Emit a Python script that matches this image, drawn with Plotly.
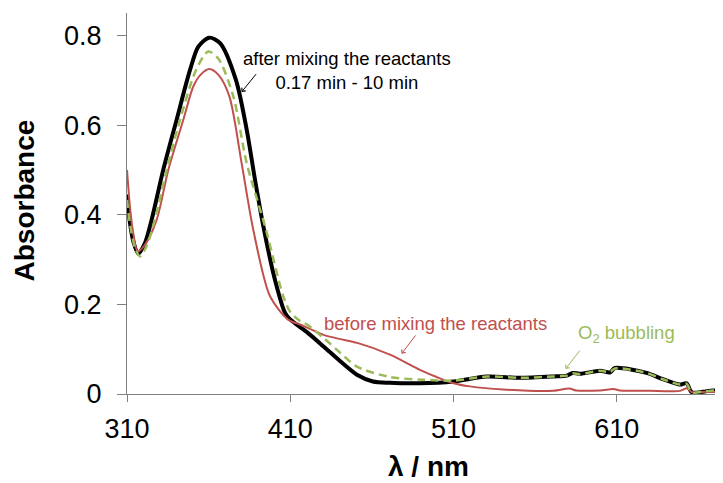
import plotly.graph_objects as go

# ---- data ----
black_wl = [310, 311.8, 313.9, 316.9, 321, 325.1, 332.2, 340.4, 348.6, 353.7, 360.4, 367, 376.7,
            383.3, 388.4, 393.9, 400.6, 406.8, 409.8, 415, 420.2, 430.4, 440.6, 450.8, 460.6,
            471, 489.4, 510, 530.3, 550.7, 571, 579.3, 583, 587.4, 599.7, 605.8, 608.8, 628.2,
            638.2, 648.6, 652.7, 655.8, 662.7, 668.9, 674.4]
black_abs = [0.445, 0.382, 0.340, 0.313, 0.337, 0.389, 0.500, 0.612, 0.723, 0.775, 0.795, 0.783,
             0.701, 0.590, 0.478, 0.367, 0.255, 0.181, 0.167, 0.152, 0.138, 0.106, 0.073, 0.043,
             0.028, 0.025, 0.024, 0.028, 0.039, 0.036, 0.039, 0.041, 0.047, 0.045, 0.052, 0.048,
             0.058, 0.047, 0.033, 0.021, 0.024, 0.004, 0.005, 0.008, 0.005]

red_wl = [310, 312, 314, 316.5, 321, 328.2, 335.3, 344.5, 350.6, 355, 360.4, 366, 372.7, 380.2,
          387.3, 397.6, 408.6, 416, 430.4, 440, 451, 471, 489.4, 499.6, 510, 520, 540.5, 571,
          581, 585, 599.7, 608, 612, 630, 648.6, 653, 656, 665, 674.4]
red_abs = [0.50, 0.41, 0.355, 0.318, 0.333, 0.389, 0.500, 0.612, 0.686, 0.712, 0.725, 0.712,
           0.664, 0.515, 0.367, 0.218, 0.166, 0.155, 0.132, 0.123, 0.114, 0.088, 0.054, 0.038,
           0.024, 0.017, 0.010, 0.007, 0.012, 0.008, 0.008, 0.011, 0.008, 0.007, 0.007, 0.013,
           0.004, 0.005, 0.004]

green_wl = [310, 312, 315, 318, 322, 327.1, 334.3, 342.5, 352.3, 359.8, 366, 375.1, 383.3, 395.1,
            405.7, 410, 416, 420.2, 430.4, 440.6, 450.8, 471, 491, 510, 530.3, 550.7, 571, 579.3,
            583, 587.4, 599.7, 605.8, 608.8, 628.2, 638.2, 648.6, 652.7, 655.8, 662.7, 668.9, 674.4]
green_abs = [0.433, 0.375, 0.325, 0.307, 0.330, 0.389, 0.500, 0.612, 0.723, 0.764, 0.748, 0.664,
             0.515, 0.367, 0.218, 0.183, 0.163, 0.155, 0.125, 0.092, 0.061, 0.038, 0.032, 0.030,
             0.039, 0.036, 0.039, 0.041, 0.046, 0.044, 0.052, 0.049, 0.057, 0.047, 0.033, 0.021,
             0.023, 0.004, 0.005, 0.008, 0.005]

x_ticks = [310, 410, 510, 610]
y_ticks = [0, 0.2, 0.4, 0.6, 0.8]
y_ticktext = ["0", "0.2", "0.4", "0.6", "0.8"]

RED = "#C0504D"
GREEN = "#9BBB59"
FONT = "Liberation Sans, Arial, sans-serif"

fig = go.Figure()
fig.add_trace(go.Scatter(x=black_wl, y=black_abs, mode="lines",
                         line=dict(color="black", width=4, shape="spline", smoothing=0.8),
                         showlegend=False))
fig.add_trace(go.Scatter(x=red_wl, y=red_abs, mode="lines",
                         line=dict(color=RED, width=2, shape="spline", smoothing=0.8),
                         showlegend=False))
fig.add_trace(go.Scatter(x=green_wl, y=green_abs, mode="lines",
                         line=dict(color=GREEN, width=2.5, dash="8px,5px", shape="spline", smoothing=0.8),
                         showlegend=False))

ann = []
ann.append(dict(x=444.7, y=0.721, xref="x", yref="y", text="after mixing the reactants<br>0.17 min - 10 min",
                showarrow=False, font=dict(family=FONT, size=18.5, color="black"), align="center"))
ann.append(dict(x=380.2, y=0.674, ax=389.8, ay=0.717, xref="x", yref="y", axref="x", ayref="y",
                text="", showarrow=True, arrowhead=4, arrowsize=1, arrowwidth=1, arrowcolor="black"))
ann.append(dict(x=499.2, y=0.157, xref="x", yref="y", text="before mixing the reactants",
                showarrow=False, font=dict(family=FONT, size=18.5, color=RED)))
ann.append(dict(x=478.2, y=0.090, ax=487.4, ay=0.134, xref="x", yref="y", axref="x", ayref="y",
                text="", showarrow=True, arrowhead=4, arrowsize=1, arrowwidth=1, arrowcolor=RED))
ann.append(dict(x=616, y=0.1345, xref="x", yref="y", text="O<sub>2</sub> bubbling",
                showarrow=False, font=dict(family=FONT, size=18.5, color=GREEN)))
ann.append(dict(x=578.6, y=0.056, ax=588.0, ay=0.100, xref="x", yref="y", axref="x", ayref="y",
                text="", showarrow=True, arrowhead=4, arrowsize=1, arrowwidth=1, arrowcolor=GREEN))
# axis titles
ann.append(dict(x=0, y=0.5, xref="paper", yref="paper", xanchor="center", yanchor="middle",
                xshift=-103, yshift=3, textangle=-90, showarrow=False, text="<b>Absorbance</b>",
                font=dict(family=FONT, size=28, color="black")))
ann.append(dict(x=0.5, y=0, xref="paper", yref="paper", xanchor="center", yanchor="middle",
                xshift=4, yshift=-72, showarrow=False, text="<b>λ / nm</b>",
                font=dict(family=FONT, size=28, color="black")))

# page body has an 8px margin, so the figure is sized/offset to compensate
fig.update_layout(
    width=715, height=475,
    margin=dict(l=119, r=1, t=5, b=89),
    paper_bgcolor="white", plot_bgcolor="white",
    font=dict(family=FONT, color="black"),
    annotations=ann,
    xaxis=dict(range=[310, 674.4], tickvals=x_ticks, ticks="outside", ticklen=7,
               tickcolor="#808080", showline=True, linecolor="#808080", linewidth=1,
               showgrid=False, zeroline=False, tickfont=dict(size=27, color="black"),
               ticklabelstandoff=4, automargin=False),
    yaxis=dict(range=[0, 0.85], tickvals=y_ticks, ticktext=y_ticktext, ticks="outside", ticklen=9,
               tickcolor="#808080", showline=True, linecolor="#808080", linewidth=1,
               showgrid=False, zeroline=False, tickfont=dict(size=27, color="black"),
               ticklabelstandoff=10, automargin=False),
)

fig.write_html("out.html")
